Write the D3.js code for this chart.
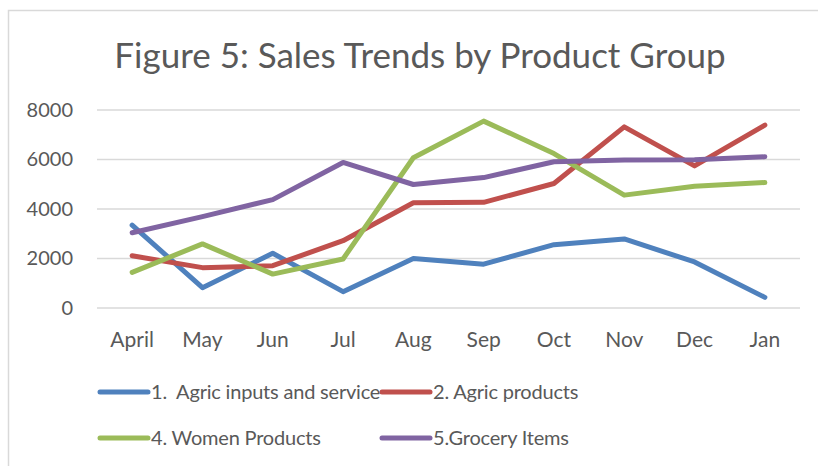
<!DOCTYPE html>
<html>
<head>
<meta charset="utf-8">
<script src="https://cdn.jsdelivr.net/npm/d3@7"></script>
<style>
  body { margin: 0; background: #fff; }
  svg { display: block; font-family: Lato, "Open Sans", sans-serif; }
</style>
</head>
<body>
<svg id="chart" width="818" height="466"></svg>
<script>
// chart data
var months = ["April", "May", "Jun", "Jul", "Aug", "Sep", "Oct", "Nov", "Dec", "Jan"];
var agricInputs = [3350, 820, 2210, 660, 2000, 1770, 2560, 2790, 1860, 430];
var agricProducts = [2110, 1630, 1710, 2720, 4250, 4270, 5030, 7320, 5740, 7390];
var womenProducts = [1440, 2590, 1370, 1980, 6070, 7550, 6240, 4560, 4920, 5070];
var groceryItems = [3040, 3690, 4380, 5880, 4990, 5270, 5910, 5980, 5990, 6110];
var seriesNames = ["1.  Agric inputs and service", "2. Agric products", "4. Women Products", "5.Grocery Items"];
var yTicks = [0, 2000, 4000, 6000, 8000];

var COLOR = {
  BLUE: "#4f81bd",
  RED: "#c0504d",
  GREEN: "#9bbb59",
  PURPLE: "#8064a2",
  GRID: "#d9d9d9",
  TEXT: "#595959"
};

var series = [
  { name: seriesNames[0], values: agricInputs, color: COLOR.BLUE },
  { name: seriesNames[1], values: agricProducts, color: COLOR.RED },
  { name: seriesNames[2], values: womenProducts, color: COLOR.GREEN },
  { name: seriesNames[3], values: groceryItems, color: COLOR.PURPLE }
];

var svg = d3.select("#chart");

// outer frame (only top and left edges visible)
svg.append("rect")
  .attr("x", 8.5)
  .attr("y", 10.5)
  .attr("width", 830)
  .attr("height", 480)
  .attr("fill", "#fff")
  .attr("stroke", COLOR.GRID)
  .attr("stroke-width", 1.5);

// title
svg.append("text")
  .attr("x", 420)
  .attr("y", 68)
  .attr("text-anchor", "middle")
  .attr("font-size", 35)
  .attr("fill", COLOR.TEXT)
  .text("Figure 5: Sales Trends by Product Group");

// scales
var x = d3.scaleBand().domain(months).range([97, 800]);
var y = d3.scaleLinear().domain([0, 8000]).range([308, 110]);

// gridlines
svg.append("g")
  .selectAll("line")
  .data(yTicks)
  .enter()
  .append("line")
  .attr("x1", 97)
  .attr("x2", 800)
  .attr("y1", function (d) { return y(d); })
  .attr("y2", function (d) { return y(d); })
  .attr("stroke", COLOR.GRID)
  .attr("stroke-width", 1.5);

// y axis labels
var yAxis = d3.axisLeft(y).tickValues(yTicks).tickFormat(d3.format("d")).tickSize(0).tickPadding(0);
var yAxisG = svg.append("g")
  .attr("transform", "translate(73,0)")
  .call(yAxis);
yAxisG.select(".domain").remove();
yAxisG.selectAll("text")
  .attr("font-size", 20)
  .attr("font-family", "Lato, sans-serif")
  .attr("fill", COLOR.TEXT);

// x axis labels
var xAxis = d3.axisBottom(x).tickSize(0).tickPadding(0);
var xAxisG = svg.append("g")
  .attr("transform", "translate(0,332)")
  .call(xAxis);
xAxisG.select(".domain").remove();
xAxisG.selectAll("text")
  .attr("font-size", 21)
  .attr("font-family", "Lato, sans-serif")
  .attr("fill", COLOR.TEXT);

// lines
var line = d3.line()
  .x(function (d, i) { return x(months[i]) + x.bandwidth() / 2; })
  .y(function (d) { return y(d); });

svg.append("g")
  .selectAll("path")
  .data(series)
  .enter()
  .append("path")
  .attr("d", function (d) { return line(d.values); })
  .attr("fill", "none")
  .attr("stroke", function (d) { return d.color; })
  .attr("stroke-width", 5)
  .attr("stroke-linecap", "round")
  .attr("stroke-linejoin", "round");

// legend
var legendPos = [
  { x: 100, y: 392 },
  { x: 382, y: 392 },
  { x: 100, y: 438 },
  { x: 382, y: 438 }
];

var legend = svg.append("g")
  .selectAll("g")
  .data(series)
  .enter()
  .append("g")
  .attr("transform", function (d, i) {
    return "translate(" + legendPos[i].x + "," + legendPos[i].y + ")";
  });

legend.append("line")
  .attr("x1", 0)
  .attr("x2", 48)
  .attr("stroke", function (d) { return d.color; })
  .attr("stroke-width", 5)
  .attr("stroke-linecap", "round");

legend.append("text")
  .attr("x", 51)
  .attr("dy", "0.35em")
  .attr("font-size", 20)
  .attr("letter-spacing", -0.2)
  .attr("fill", COLOR.TEXT)
  .attr("xml:space", "preserve")
  .style("white-space", "pre")
  .text(function (d) { return d.name; });
</script>
</body>
</html>
